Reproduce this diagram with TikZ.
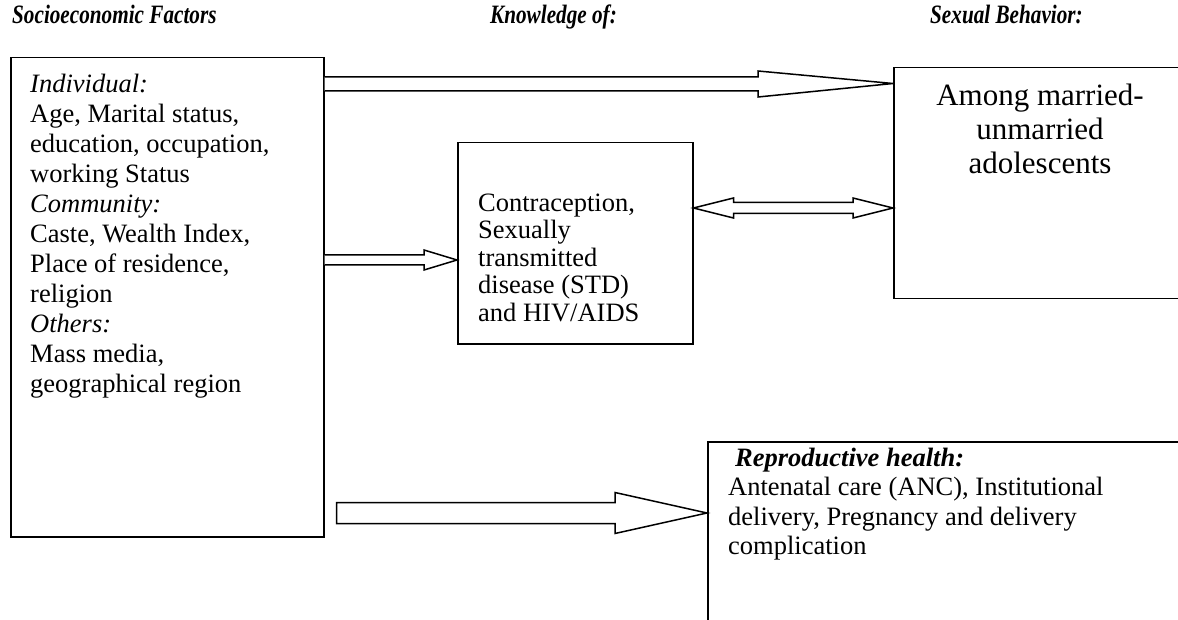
\documentclass[tikz,border=0pt]{standalone}
\usepackage{fontspec}
\setmainfont{Liberation Serif}
\usetikzlibrary{calc}
\begin{document}
\begin{tikzpicture}[x=1pt,y=-1pt,
  box/.style={draw, line width=1.5pt, inner sep=0pt, anchor=north west},
  blk/.style={draw, line width=1.5pt, fill=white, line join=miter},
  body/.style={inner sep=0pt, anchor=north west, align=left, font=\fontsize{26.5}{30}\selectfont},
  ttl/.style={inner sep=0pt, anchor=base west, font=\fontsize{26.5}{30}\selectfont\bfseries\itshape}]
\useasboundingbox (0,0) rectangle (1178,620);
% titles
\node[ttl] (t1) at (12,24) {\scalebox{0.8}[1]{Socioeconomic Factors}};
\node[ttl] (t2) at (490,24) {\scalebox{0.8}[1]{Knowledge of:}};
\node[ttl] (t3) at (930,24) {\scalebox{0.8}[1]{Sexual Behavior:}};
% boxes
\node[box, minimum width=313, minimum height=479] (soc) at (10,57) {};
\node[box, minimum width=235, minimum height=201] (know) at (457,142) {};
\node[box, minimum width=300, minimum height=231] (sex) at (893,67) {};
\node[box, minimum width=490, minimum height=200] (repro) at (707,441) {};
% texts
\node[body] (soct) at (30,71) {\strut\textit{Individual:}\\ Age, Marital status,\\ education, occupation,\\ working Status\\ \textit{Community:}\\ Caste, Wealth Index,\\ Place of residence,\\ religion\\ \textit{Others:}\\ Mass media,\\ geographical region};
\node[body, font=\fontsize{26.5}{27.5}\selectfont] (knowt) at (478,191.75) {\strut Contraception,\\ Sexually\\ transmitted\\ disease (STD)\\ and HIV/AIDS};
\node[inner sep=0pt, anchor=north, align=center, font=\fontsize{31}{34}\selectfont] (sext) at (1040,82) {\strut Among married-\\ unmarried\\ adolescents};
\node[body, font=\fontsize{26.5}{29.5}\selectfont] (reprot) at (728,445.35) {\strut\hspace{7pt}\textbf{\textit{Reproductive health:}}\\ Antenatal care (ANC), Institutional\\ delivery, Pregnancy and delivery\\ complication};
% connectors
\coordinate (a1) at ($(sex.north west)+(0,16.5)$);
\coordinate (a0) at (soc.east |- a1);
\draw[blk] ($(a0)+(0,-6.5)$) -- ($(a1)+(-135,-6.5)$) -- ($(a1)+(-135,-12.5)$) -- (a1)
  -- ($(a1)+(-135,13.5)$) -- ($(a1)+(-135,7.5)$) -- ($(a0)+(0,7.5)$);
\coordinate (b1) at ($(know.north west)+(0,118)$);
\coordinate (b0) at (soc.east |- b1);
\draw[blk] ($(b0)+(0,-5)$) -- ($(b1)+(-33,-5)$) -- ($(b1)+(-33,-10)$) -- (b1)
  -- ($(b1)+(-33,10)$) -- ($(b1)+(-33,5)$) -- ($(b0)+(0,5)$);
\coordinate (d1) at ($(know.north east)+(0,66)$);
\coordinate (d2) at (sex.west |- d1);
\draw[blk] (d1) -- ($(d1)+(40,-10)$) -- ($(d1)+(40,-5.5)$) -- ($(d2)+(-40,-5.5)$) -- ($(d2)+(-40,-10)$) -- (d2)
  -- ($(d2)+(-40,10)$) -- ($(d2)+(-40,5.5)$) -- ($(d1)+(40,5.5)$) -- ($(d1)+(40,10)$) -- cycle;
\coordinate (e1) at ($(repro.north west)+(0,72)$);
\coordinate (e0) at ($(soc.east |- e1)+(12,0)$);
\draw[blk] ($(e0)+(0,-10.5)$) -- ($(e1)+(-92,-10.5)$) -- ($(e1)+(-92,-20.5)$) -- (e1)
  -- ($(e1)+(-92,20.5)$) -- ($(e1)+(-92,10.5)$) -- ($(e0)+(0,10.5)$) -- cycle;
\end{tikzpicture}
\end{document}
